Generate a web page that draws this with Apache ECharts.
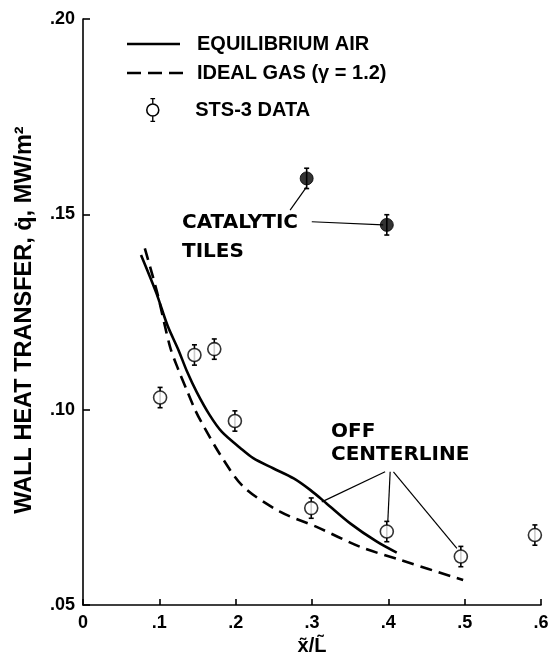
<!DOCTYPE html>
<html>
<head>
<meta charset="utf-8">
<script src="https://cdn.jsdelivr.net/npm/echarts@6/dist/echarts.min.js"></script>
<style>
  html, body { margin: 0; padding: 0; background: #fff; }
  #main { width: 550px; height: 668px; }
</style>
</head>
<body>
<div id="main"></div>
<script>
    // equilibrium air (solid)
    var eqX = [0.076, 0.096, 0.111, 0.125, 0.136, 0.149, 0.166, 0.182, 0.206, 0.223, 0.249, 0.276, 0.298, 0.319, 0.350, 0.385, 0.411];
    var eqY = [0.1396, 0.1299, 0.1214, 0.1153, 0.1099, 0.1045, 0.0986, 0.0943, 0.0902, 0.0876, 0.0850, 0.0824, 0.0794, 0.0760, 0.0709, 0.0662, 0.0634];
    // ideal gas gamma = 1.2 (dashed)
    var idX = [0.081, 0.097, 0.114, 0.125, 0.136, 0.147, 0.156, 0.180, 0.210, 0.258, 0.306, 0.363, 0.416, 0.498];
    var idY = [0.1413, 0.1301, 0.1161, 0.1102, 0.1050, 0.0999, 0.0965, 0.0884, 0.0803, 0.0739, 0.0700, 0.0649, 0.0615, 0.0564];
    // STS-3 flight data
    var stsX = [0.101, 0.146, 0.172, 0.199, 0.299, 0.398, 0.495, 0.592];
    var stsY = [0.1031, 0.1140, 0.1155, 0.0971, 0.0748, 0.0688, 0.0624, 0.0679];
    var stsErr = [0.0026, 0.0026, 0.0026, 0.0026, 0.0026, 0.0026, 0.0026, 0.0026];
    // catalytic tiles (filled)
    var catX = [0.293, 0.398];
    var catY = [0.1592, 0.1473];
    var catErr = [0.0026, 0.0026];

    var xTickLabels = ['0', '.1', '.2', '.3', '.4', '.5', '.6'];
    var yTickLabels = ['.05', '.10', '.15', '.20'];

    // leader lines of the notes, in data units
    var catLeaders = [[[0.2713, 0.1511], [0.2932, 0.1571]], [[0.2997, 0.1481], [0.3932, 0.1473]]];
    var offLeaders = [[[0.3958, 0.0841], [0.3128, 0.0764]], [[0.4024, 0.0841], [0.3993, 0.0713]], [[0.4067, 0.0841], [0.4898, 0.0645]]];

    function zip(xs, ys, es) {
        return xs.map(function (x, i) {
            return es ? [x, ys[i], es[i]] : [x, ys[i]];
        });
    }

    var FONT = '"Liberation Sans", Arial, sans-serif';
    var NOTE_FONT = 'bold 20px "DejaVu Sans", sans-serif';
    var BLACK = '#000';

    function errorBars(params, api) {
        var x = api.value(0), y = api.value(1), e = api.value(2);
        var top = api.coord([x, y + e]);
        var bot = api.coord([x, y - e]);
        var st = {stroke: BLACK, lineWidth: 1.6};
        return {
            type: 'group',
            children: [
                {type: 'line', shape: {x1: top[0], y1: top[1], x2: bot[0], y2: bot[1]}, style: st},
                {type: 'line', shape: {x1: top[0] - 2.5, y1: top[1], x2: top[0] + 2.5, y2: top[1]}, style: st},
                {type: 'line', shape: {x1: bot[0] - 2.5, y1: bot[1], x2: bot[0] + 2.5, y2: bot[1]}, style: st}
            ]
        };
    }

    // legend glyphs
    var solidIcon = 'path://M0,0 L53,0 L53,2.6 L0,2.6 Z';
    var dashIcon = 'path://M0,0 L14,0 L14,2.6 L0,2.6 Z M21,0 L35,0 L35,2.6 L21,2.6 Z M42,0 L56,0 L56,2.6 L42,2.6 Z';
    var ringIcon = 'path://M3,14 A7,7 0 1,1 17,14 A7,7 0 1,1 3,14 Z M4.6,14 A5.4,5.4 0 1,0 15.4,14 A5.4,5.4 0 1,0 4.6,14 Z '
        + 'M9.3,2 L10.7,2 L10.7,7 L9.3,7 Z M7.6,1.6 L12.4,1.6 L12.4,3 L7.6,3 Z '
        + 'M9.3,21 L10.7,21 L10.7,26 L9.3,26 Z M7.6,25 L12.4,25 L12.4,26.4 L7.6,26.4 Z';

    function legendText(pad) {
        return {color: BLACK, fontSize: 20, fontWeight: 'bold', fontFamily: FONT, padding: [0, 0, 0, pad]};
    }

    var chart = echarts.init(document.getElementById('main'));
    chart.setOption({
        animation: false,
        backgroundColor: '#fff',
        grid: {left: 83, right: 9, top: 19, bottom: 63, containLabel: false, outerBoundsMode: 'none'},
        legend: [
            {
                data: [{name: 'EQUILIBRIUM AIR', icon: solidIcon}], left: 127, top: 34, padding: 0,
                itemWidth: 53, itemHeight: 14, itemStyle: {color: BLACK, borderWidth: 0}, textStyle: legendText(12)
            },
            {
                data: [{name: 'IDEAL GAS (γ = 1.2)', icon: dashIcon}], left: 127, top: 63, padding: 0,
                itemWidth: 56, itemHeight: 14, itemStyle: {color: BLACK, borderWidth: 0}, textStyle: legendText(9)
            },
            {
                data: [{name: 'STS-3 DATA', icon: ringIcon}], left: 146, top: 98, padding: 0,
                itemWidth: 17, itemHeight: 24, itemStyle: {color: BLACK, borderWidth: 0}, textStyle: legendText(29)
            }
        ],
        xAxis: {
            type: 'value', min: 0, max: 0.6, interval: 0.1,
            name: 'x̃/L̃', nameLocation: 'middle', nameGap: 30,
            nameTextStyle: {color: BLACK, fontSize: 20, fontWeight: 'bold', fontFamily: FONT},
            splitLine: {show: false},
            axisLine: {lineStyle: {color: BLACK, width: 1.6}},
            axisTick: {inside: true, length: 6, lineStyle: {color: BLACK, width: 1.6}},
            axisLabel: {
                color: BLACK, fontSize: 18, fontWeight: 'bold', fontFamily: FONT, margin: 9,
                formatter: function (v) { return xTickLabels[Math.round(v * 10)]; }
            }
        },
        yAxis: {
            type: 'value', min: 0.05, max: 0.2, interval: 0.05,
            name: 'WALL HEAT TRANSFER, q̇, MW/m²', nameLocation: 'middle', nameGap: 46, nameRotate: 90,
            nameTextStyle: {color: BLACK, fontSize: 23.5, fontWeight: 'bold', fontFamily: FONT, padding: [0, 16, 0, 0]},
            splitLine: {show: false},
            axisLine: {lineStyle: {color: BLACK, width: 1.6}},
            axisTick: {inside: true, length: 7, lineStyle: {color: BLACK, width: 1.6}},
            axisLabel: {
                color: BLACK, fontSize: 18, fontWeight: 'bold', fontFamily: FONT, margin: 8,
                formatter: function (v) { return yTickLabels[Math.round((v - 0.05) / 0.05)]; }
            }
        },
        graphic: [
            {type: 'text', left: 182, top: 213, style: {text: 'CATALYTIC', fill: BLACK, font: NOTE_FONT}},
            {type: 'text', left: 182, top: 242, style: {text: 'TILES', fill: BLACK, font: NOTE_FONT}},
            {type: 'text', left: 331, top: 422, style: {text: 'OFF', fill: BLACK, font: NOTE_FONT}},
            {type: 'text', left: 331, top: 445, style: {text: 'CENTERLINE', fill: BLACK, font: NOTE_FONT}}
        ],
        series: [
            {
                name: 'EQUILIBRIUM AIR', type: 'line', smooth: 0.3, symbol: 'none',
                lineStyle: {color: BLACK, width: 2.6}, itemStyle: {color: BLACK},
                data: zip(eqX, eqY)
            },
            {
                name: 'IDEAL GAS (γ = 1.2)', type: 'line', smooth: 0.3, symbol: 'none',
                lineStyle: {color: BLACK, width: 2.6, type: [12, 7]}, itemStyle: {color: BLACK},
                data: zip(idX, idY)
            },
            {
                name: 'STS-3 DATA', type: 'custom', renderItem: errorBars, z: 3,
                data: zip(stsX, stsY, stsErr)
            },
            {
                name: 'STS-3 DATA', type: 'scatter', symbol: 'circle', symbolSize: 13, z: 4,
                itemStyle: {color: '#fff', borderColor: BLACK, borderWidth: 1.6},
                data: zip(stsX, stsY)
            },
            {
                name: 'catalytic', type: 'custom', renderItem: errorBars, z: 3,
                data: zip(catX, catY, catErr)
            },
            {
                name: 'catalytic', type: 'scatter', symbol: 'circle', symbolSize: 13, z: 4,
                itemStyle: {color: BLACK, borderColor: BLACK, borderWidth: 1},
                data: zip(catX, catY),
                markLine: {
                    silent: true, symbol: 'none', label: {show: false},
                    lineStyle: {color: BLACK, width: 1.2, type: 'solid'},
                    data: catLeaders.concat(offLeaders).map(function (seg) {
                        return [{coord: seg[0]}, {coord: seg[1]}];
                    })
                }
            }
        ]
    });
</script>
</body>
</html>
